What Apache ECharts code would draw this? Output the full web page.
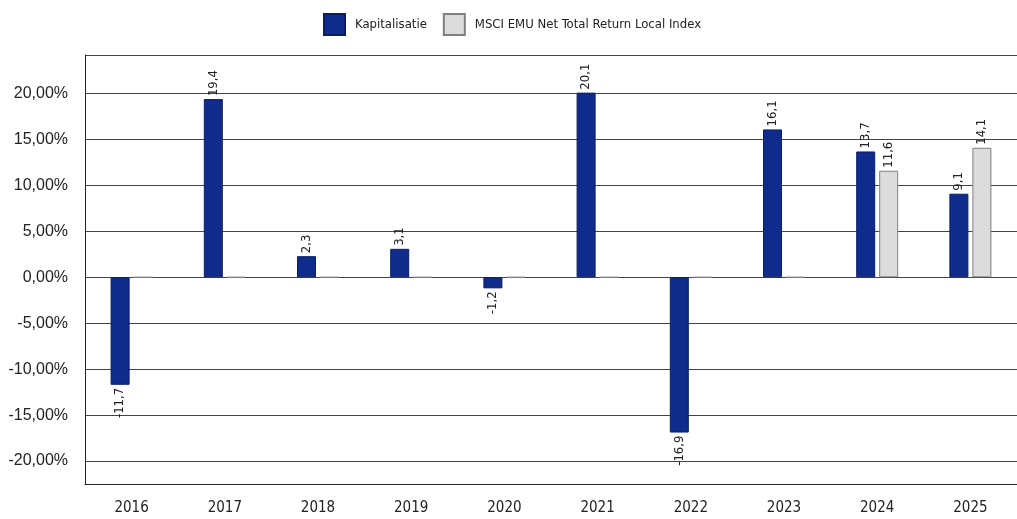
<!DOCTYPE html>
<html>
<head>
<meta charset="utf-8">
<script src="https://cdn.jsdelivr.net/npm/echarts@6/dist/echarts.min.js"></script>
<style>
  html, body { margin: 0; padding: 0; background: #fff; }
  #chart { width: 1017px; height: 519px; }
</style>
</head>
<body>
<div id="chart"></div>
<script>
const years = ['2016', '2017', '2018', '2019', '2020', '2021', '2022', '2023', '2024', '2025'];
const kapitalisatie = [-11.7, 19.4, 2.3, 3.1, -1.2, 20.1, -16.9, 16.1, 13.7, 9.1];
const msciEmu = [0, 0, 0, 0, 0, 0, 0, 0, 11.6, 14.1];
const seriesNames = ['Kapitalisatie', 'MSCI EMU Net Total Return Local Index'];

const narrow = "'Liberation Sans Narrow', 'Arial Narrow', 'DejaVu Sans Condensed', sans-serif";
const regular = "'Liberation Sans', Arial, sans-serif";

// label above positive bars, below negative ones, nothing on zero bars
const withLabels = (vals) => vals.map(v => {
  if (v === 0) return { value: v, label: { show: false } };
  return v > 0
    ? { value: v, label: { position: 'top', align: 'left' } }
    : { value: v, label: { position: 'bottom', align: 'right' } };
});

const barLabel = {
  show: true,
  rotate: 90,
  distance: 3,
  verticalAlign: 'middle',
  fontFamily: narrow,
  fontSize: 13,
  color: '#222',
  formatter: (p) => p.value.toFixed(1).replace('.', ',')
};

const chart = echarts.init(document.getElementById('chart'));
chart.setOption({
  backgroundColor: '#fff',
  animation: false,
  legend: {
    left: 318,
    top: 8,
    itemWidth: 21,
    itemHeight: 21,
    itemGap: 16,
    icon: 'rect',
    textStyle: { fontFamily: narrow, fontSize: 13, color: '#222', padding: [0, 0, 0, 5] },
    data: seriesNames
  },
  grid: { left: 85, right: -12, top: 55, bottom: 35, containLabel: false },
  xAxis: {
    type: 'category',
    data: years,
    axisLine: { onZero: false, lineStyle: { color: '#222', width: 1 } },
    axisTick: { alignWithLabel: true, length: 4, lineStyle: { color: '#222' } },
    axisLabel: { fontFamily: narrow, fontSize: 15, color: '#222', margin: 17 },
    splitLine: { show: false }
  },
  yAxis: {
    type: 'value',
    min: -22.5,
    max: 24.2,
    interval: 2.5,
    axisLine: { show: true, lineStyle: { color: '#222', width: 1 } },
    axisTick: { show: false },
    axisLabel: {
      fontFamily: regular,
      fontSize: 16,
      color: '#222',
      margin: 17,
      formatter: (v) => Math.abs(v % 5) < 1e-6 ? v.toFixed(2).replace('.', ',') + '%' : ''
    },
    splitLine: { show: true, lineStyle: { color: ['rgba(0,0,0,0)', '#444'], width: 1 } }
  },
  series: [
    {
      name: seriesNames[0],
      type: 'bar',
      barWidth: 19,
      barGap: '21%',
      data: withLabels(kapitalisatie),
      itemStyle: { color: '#0f2b8c', borderColor: '#0a1d66', borderWidth: 1 },
      label: barLabel
    },
    {
      name: seriesNames[1],
      type: 'bar',
      barWidth: 19,
      data: withLabels(msciEmu),
      itemStyle: { color: '#dcdcdc', borderColor: '#7f7f7f', borderWidth: 1 },
      label: barLabel
    }
  ]
});
</script>
</body>
</html>
